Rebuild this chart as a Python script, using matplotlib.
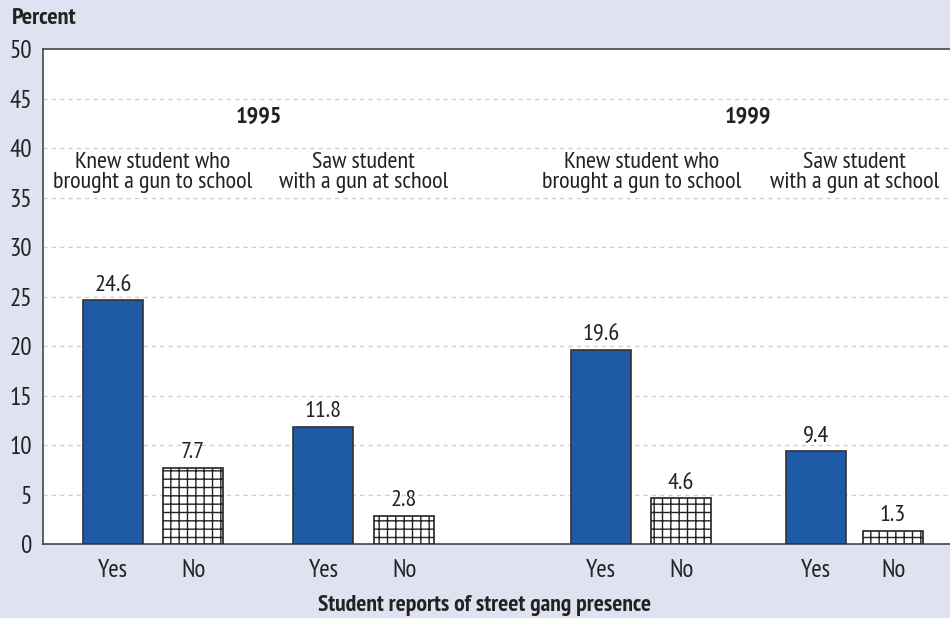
import matplotlib
matplotlib.use("Agg")
from matplotlib import pyplot as plt

# data
years = ['1995', '1999']
groups = ['Knew student who\nbrought a gun to school', 'Saw student\nwith a gun at school']
tick_labels = ['Yes', 'No', 'Yes', 'No', 'Yes', 'No', 'Yes', 'No']
values = [24.6, 7.7, 11.8, 2.8, 19.6, 4.6, 9.4, 1.3]
positions = [0, 1, 2.63, 3.64, 6.1, 7.1, 8.78, 9.75]
yticks = [0, 5, 10, 15, 20, 25, 30, 35, 40, 45, 50]

plt.rcParams['font.family'] = ['PT Sans Narrow', 'DejaVu Sans']

bg = '#dfe2f0'
blue = '#1f5aa6'
fs = 17.5

fig = plt.figure(figsize=(9.5, 6.18), dpi=100, facecolor=bg)
ax = fig.add_axes([0.0453, 0.1197, 0.9547, 0.801])
ax.set_facecolor('white')

for i, (x, v) in enumerate(zip(positions, values)):
    if i % 2 == 0:
        ax.bar(x, v, width=0.75, color=blue, edgecolor='#333333', linewidth=1.2, zorder=3)
    else:
        ax.bar(x, v, width=0.75, color='white', edgecolor='#222222', hatch='++',
               linewidth=1.2, zorder=3)
    ax.text(x, v + 0.5, f'{v}', ha='center', va='bottom', fontsize=fs, color='#222222')

ax.set_xlim(-0.875, 10.46)
ax.set_ylim(0, 50)
ax.set_yticks(yticks)
ax.set_xticks(positions)
ax.set_xticklabels(tick_labels)
ax.tick_params(length=0, labelsize=18, colors='#222222', pad=11)
ax.tick_params(axis='y', pad=8)

for y in yticks[1:-1]:
    ax.axhline(y, color='#cfcfcf', linestyle=(0, (3, 3)), linewidth=1, zorder=1)

for s in ['left', 'bottom', 'top']:
    ax.spines[s].set_color('#444444')
    ax.spines[s].set_linewidth(1.2)
ax.spines['right'].set_visible(False)

# group headings
for k, yr in enumerate(years):
    base = 4 * k
    xl = (positions[base] + positions[base + 1]) / 2
    xr = (positions[base + 2] + positions[base + 3]) / 2
    ax.text((xl + xr) / 2, 43.1, yr, ha='center', va='center', fontsize=fs,
            fontweight='bold', color='#222222')
    ax.text(xl, 37.5, groups[0], ha='center', va='center', fontsize=fs,
            color='#222222', linespacing=0.95)
    ax.text(xr, 37.5, groups[1], ha='center', va='center', fontsize=fs,
            color='#222222', linespacing=0.95)

fig.text(0.013, 0.97, 'Percent', ha='left', va='center', fontsize=fs,
         fontweight='bold', color='#222222')
fig.text(0.51, 0.021, 'Student reports of street gang presence', ha='center',
         va='center', fontsize=17, fontweight='bold', color='#222222')

fig.savefig('out.png', dpi=100, facecolor=bg)
